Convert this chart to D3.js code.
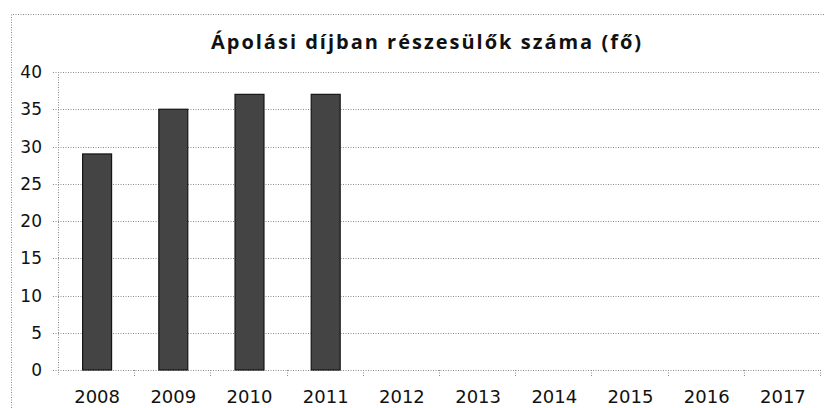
<!DOCTYPE html>
<html lang="hu">
<head>
<meta charset="UTF-8">
<script src="https://d3js.org/d3.v7.min.js"></script>
<style>
body { margin: 0; background: #fff; }
svg { display: block; }
.grid line { stroke: #8a8a8a; stroke-dasharray: 1,1.5; stroke-width: 1; }
.ylab, .xlab { font-family: "DejaVu Sans", sans-serif; fill: #111; }
.title { font-family: "Open Sans", sans-serif; font-weight: bold; font-size: 20px; letter-spacing: 2px; fill: #111; }
</style>
</head>
<body>
<div id="chart"></div>
<script>
// data
const years = ["2008", "2009", "2010", "2011", "2012", "2013", "2014", "2015", "2016", "2017"];
const values = [29, 35, 37, 37, null, null, null, null, null, null];
const yTicks = [0, 5, 10, 15, 20, 25, 30, 35, 40];
const titleText = "Ápolási díjban részesülők száma (fő)";

const width = 824, height = 408;
const plot = { left: 58, right: 820, top: 72, bottom: 370 };

const svg = d3.select("#chart").append("svg")
  .attr("width", width)
  .attr("height", height);

// outer chart border (dotted)
svg.append("path")
  .attr("d", `M11.5,${height} L11.5,14.5 L${width},14.5`)
  .attr("fill", "none")
  .attr("stroke", "#8a8a8a")
  .attr("stroke-dasharray", "1,1.5");

const x = d3.scaleBand()
  .domain(years)
  .range([plot.left, plot.right])
  .paddingInner(0.62)
  .paddingOuter(0.31);

const y = d3.scaleLinear()
  .domain([0, 40])
  .range([plot.bottom, plot.top]);

// horizontal gridlines
const grid = svg.append("g").attr("class", "grid");
grid.selectAll("line.h")
  .data(yTicks)
  .enter().append("line")
  .attr("class", "h")
  .attr("x1", plot.left - 5)
  .attr("x2", plot.right)
  .attr("y1", d => Math.round(y(d)) + 0.5)
  .attr("y2", d => Math.round(y(d)) + 0.5);

// y axis line
grid.append("line")
  .attr("x1", plot.left + 0.5).attr("x2", plot.left + 0.5)
  .attr("y1", plot.top).attr("y2", plot.bottom + 5);

// category tick marks
const bounds = d3.range(years.length + 1).map(i => plot.left + i * (plot.right - plot.left) / years.length);
grid.selectAll("line.t")
  .data(bounds.slice(1))
  .enter().append("line")
  .attr("class", "t")
  .attr("x1", d => Math.round(d) + 0.5)
  .attr("x2", d => Math.round(d) + 0.5)
  .attr("y1", plot.bottom)
  .attr("y2", plot.bottom + 6);

// bars
svg.selectAll("rect.bar")
  .data(years.map((yr, i) => ({ yr, v: values[i] })).filter(d => d.v != null))
  .enter().append("rect")
  .attr("class", "bar")
  .attr("x", d => x(d.yr) + 1)
  .attr("width", x.bandwidth())
  .attr("y", d => y(d.v))
  .attr("height", d => y(0) - y(d.v))
  .attr("fill", "#444")
  .attr("stroke", "#151515")
  .attr("stroke-width", 1.2);

// y labels
svg.selectAll("text.ylab")
  .data(yTicks)
  .enter().append("text")
  .attr("class", "ylab")
  .attr("x", 42)
  .attr("y", d => y(d))
  .attr("dy", "0.36em")
  .attr("text-anchor", "end")
  .style("font-size", "17px")
  .text(d => d);

// x labels
svg.selectAll("text.xlab")
  .data(years)
  .enter().append("text")
  .attr("class", "xlab")
  .attr("x", d => x(d) + x.bandwidth() / 2 + 1)
  .attr("y", 403)
  .attr("text-anchor", "middle")
  .style("font-size", "18px")
  .text(d => d);

// title
svg.append("text")
  .attr("class", "title")
  .attr("x", 427)
  .attr("y", 49)
  .attr("text-anchor", "middle")
  .text(titleText);
</script>
</body>
</html>
